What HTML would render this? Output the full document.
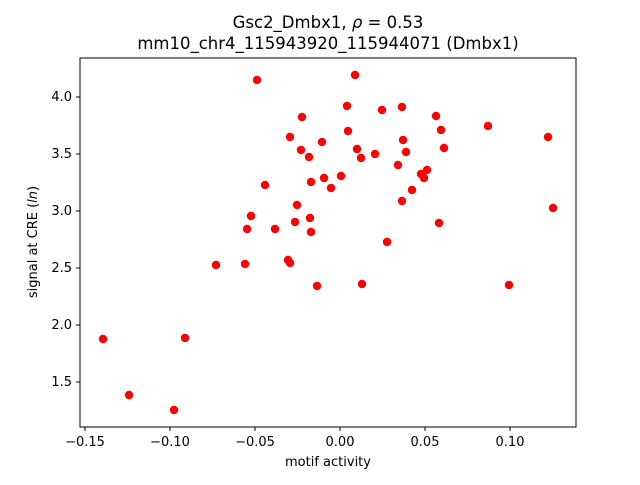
<!DOCTYPE html>
<html><head><style>body{margin:0;background:#fff}</style></head><body>
<svg width="640" height="480" xmlns="http://www.w3.org/2000/svg" font-family="DejaVu Sans, Liberation Sans, sans-serif">
<rect width="640" height="480" fill="#fff"/>
<text x="328" y="28" font-size="16.5" text-anchor="middle">Gsc2_Dmbx1, <tspan font-style="italic">ρ</tspan> = 0.53</text>
<text x="328" y="49" font-size="16.5" text-anchor="middle">mm10_chr4_115943920_115944071 (Dmbx1)</text>
<g fill="#f00">
<circle cx="257" cy="80" r="4.2"/><circle cx="355" cy="75" r="4.2"/><circle cx="302" cy="117" r="4.2"/><circle cx="347" cy="106" r="4.2"/><circle cx="382" cy="110" r="4.2"/><circle cx="402" cy="107" r="4.2"/><circle cx="436" cy="116" r="4.2"/><circle cx="290" cy="137" r="4.2"/><circle cx="322" cy="142" r="4.2"/><circle cx="348" cy="131" r="4.2"/><circle cx="357" cy="149" r="4.2"/><circle cx="375" cy="154" r="4.2"/><circle cx="403" cy="140" r="4.2"/><circle cx="406" cy="152" r="4.2"/><circle cx="441" cy="130" r="4.2"/><circle cx="444" cy="148" r="4.2"/><circle cx="309" cy="157" r="4.2"/><circle cx="361" cy="158" r="4.2"/><circle cx="301" cy="150" r="4.2"/><circle cx="311" cy="182" r="4.2"/><circle cx="324" cy="178" r="4.2"/><circle cx="341" cy="176" r="4.2"/><circle cx="331" cy="188" r="4.2"/><circle cx="265" cy="185" r="4.2"/><circle cx="297" cy="205" r="4.2"/><circle cx="251" cy="216" r="4.2"/><circle cx="398" cy="165" r="4.2"/><circle cx="427" cy="170" r="4.2"/><circle cx="421" cy="174" r="4.2"/><circle cx="424" cy="178" r="4.2"/><circle cx="412" cy="190" r="4.2"/><circle cx="402" cy="201" r="4.2"/><circle cx="295" cy="222" r="4.2"/><circle cx="310" cy="218" r="4.2"/><circle cx="311" cy="232" r="4.2"/><circle cx="247" cy="229" r="4.2"/><circle cx="275" cy="229" r="4.2"/><circle cx="387" cy="242" r="4.2"/><circle cx="439" cy="223" r="4.2"/><circle cx="216" cy="265" r="4.2"/><circle cx="245" cy="264" r="4.2"/><circle cx="288" cy="260" r="4.2"/><circle cx="290" cy="263" r="4.2"/><circle cx="317" cy="286" r="4.2"/><circle cx="362" cy="284" r="4.2"/><circle cx="509" cy="285" r="4.2"/><circle cx="103" cy="339" r="4.2"/><circle cx="185" cy="338" r="4.2"/><circle cx="129" cy="395" r="4.2"/><circle cx="174" cy="410" r="4.2"/><circle cx="488" cy="126" r="4.2"/><circle cx="548" cy="137" r="4.2"/><circle cx="553" cy="208" r="4.2"/>
</g>
<rect x="80" y="58" width="496" height="369" fill="none" stroke="#000" stroke-width="1"/>
<g stroke="#000">
<line x1="85" y1="427" x2="85" y2="431"/><line x1="170" y1="427" x2="170" y2="431"/><line x1="255" y1="427" x2="255" y2="431"/><line x1="340" y1="427" x2="340" y2="431"/><line x1="425" y1="427" x2="425" y2="431"/><line x1="510" y1="427" x2="510" y2="431"/>
<line x1="76" y1="97" x2="80" y2="97"/><line x1="76" y1="154" x2="80" y2="154"/><line x1="76" y1="211" x2="80" y2="211"/><line x1="76" y1="268" x2="80" y2="268"/><line x1="76" y1="325" x2="80" y2="325"/><line x1="76" y1="382" x2="80" y2="382"/>
</g>
<g font-size="13" text-anchor="middle">
<text x="85" y="446">−0.15</text><text x="170" y="446">−0.10</text><text x="255" y="446">−0.05</text><text x="340" y="446">0.00</text><text x="425" y="446">0.05</text><text x="510" y="446">0.10</text>
<text x="328" y="466">motif activity</text>
</g>
<g font-size="13" text-anchor="end">
<text x="72" y="101">4.0</text><text x="72" y="158">3.5</text><text x="72" y="215">3.0</text><text x="72" y="272">2.5</text><text x="72" y="329">2.0</text><text x="72" y="386">1.5</text>
</g>
<text transform="translate(37,242) rotate(-90)" font-size="13" text-anchor="middle">signal at CRE (<tspan font-style="italic">ln</tspan>)</text>
</svg>
</body></html>
